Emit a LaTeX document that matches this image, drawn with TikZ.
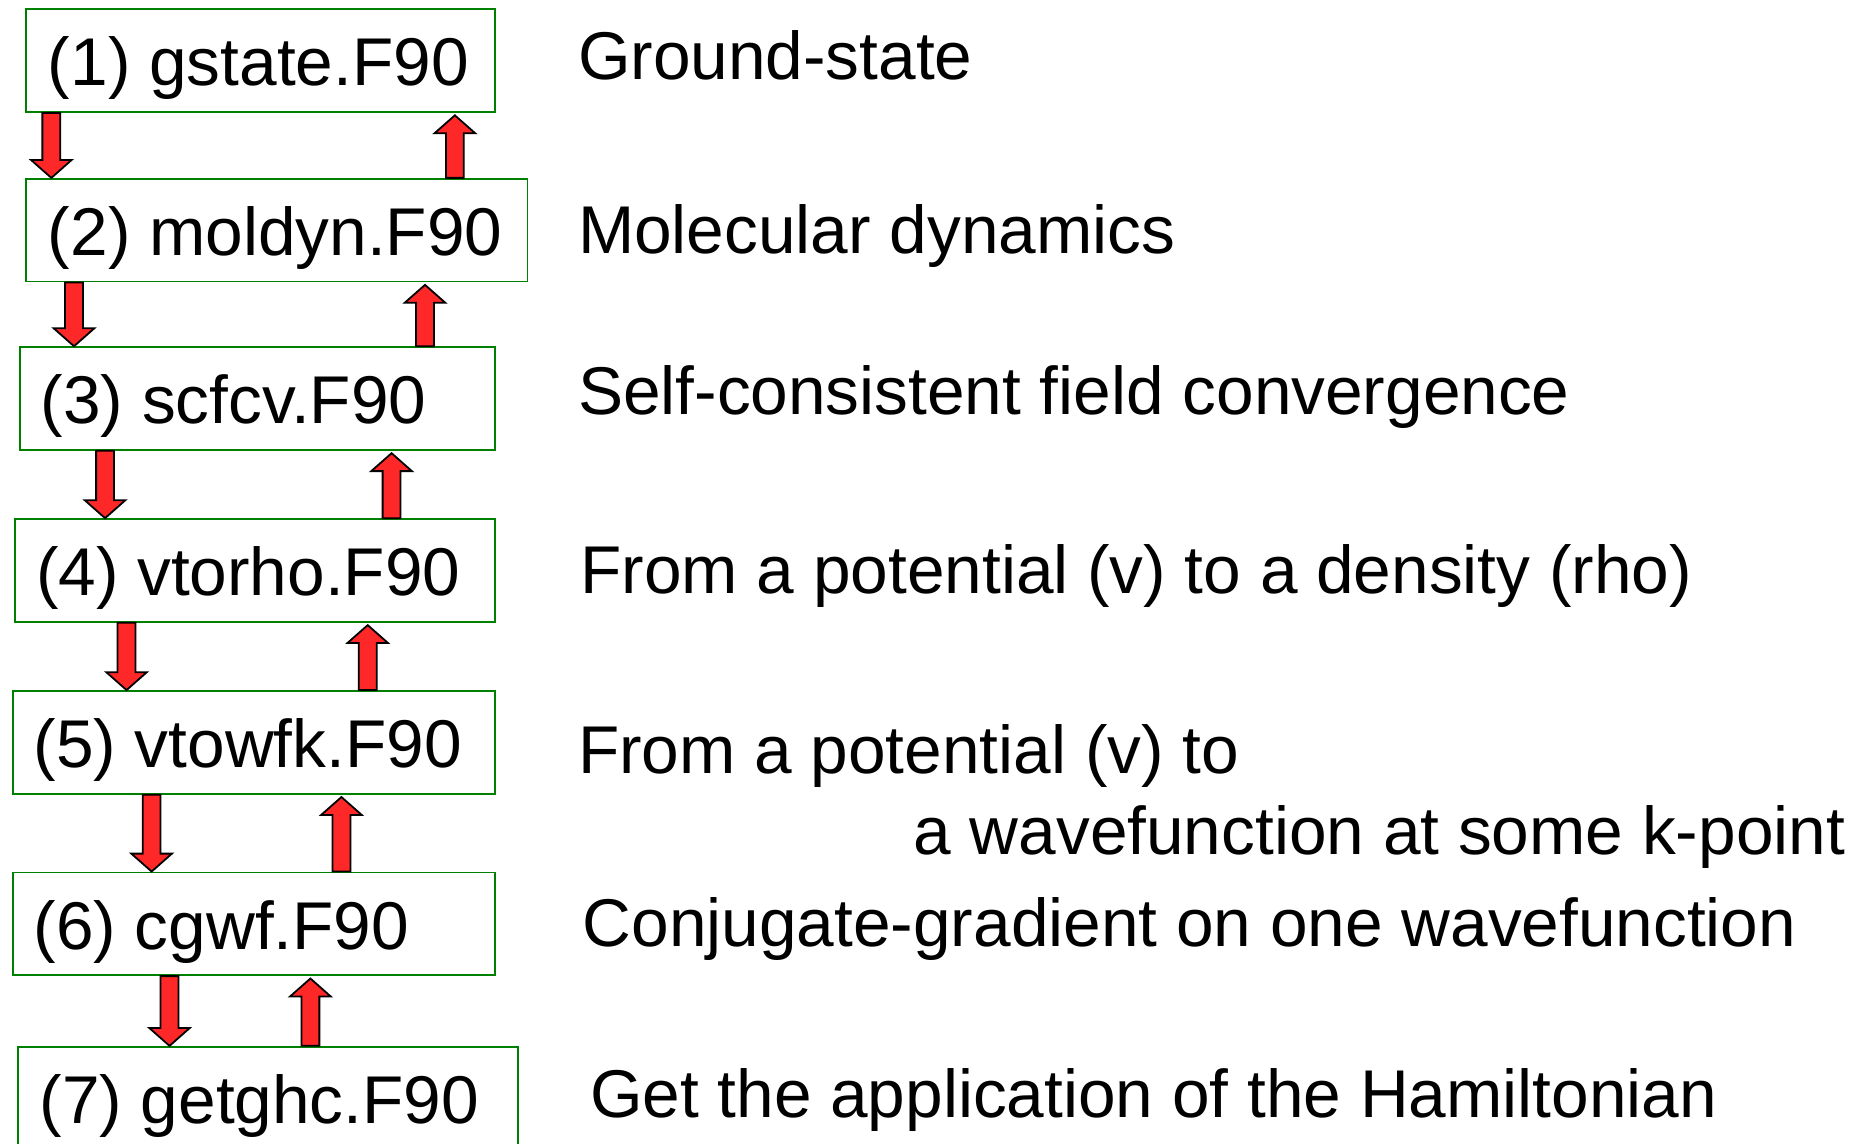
\documentclass[tikz,border=0pt]{standalone}
\usepackage{fontspec}
\setmainfont{Liberation Sans}
\usetikzlibrary{calc}
\definecolor{boxgreen}{RGB}{0,128,0}
\definecolor{arrred}{RGB}{255,40,40}
\tikzset{
  box/.style={draw=boxgreen, line width=1.6pt, rectangle, inner sep=0pt, anchor=north west},
  lbl/.style={anchor=base west, inner sep=0pt, font=\fontsize{56.6}{68}\selectfont},
  blk/.style={draw=black, line width=1.5pt, fill=arrred, line join=miter},
}
\newcommand\dnarr[3]{%
  \draw[blk] let \p1=(#2.south), \p2=(#3.north) in
    (#1pt-7.5pt,\y1) -- (#1pt+7.5pt,\y1) -- (#1pt+7.5pt,\y2+15pt) -- (#1pt+17pt,\y2+15pt)
    -- (#1pt,\y2) -- (#1pt-17pt,\y2+15pt) -- (#1pt-7.5pt,\y2+15pt) -- cycle;}
\newcommand\uparr[3]{%
  \draw[blk] let \p1=(#2.south), \p2=(#3.north) in
    (#1pt-7.5pt,\y2) -- (#1pt+7.5pt,\y2) -- (#1pt+7.5pt,\y1-17pt) -- (#1pt+17pt,\y1-17pt)
    -- (#1pt,\y1-2pt) -- (#1pt-17pt,\y1-17pt) -- (#1pt-7.5pt,\y1-17pt) -- cycle;}
\begin{document}
\begin{tikzpicture}[x=1pt,y=-1pt]
\useasboundingbox (0,0) rectangle (1568,958);
\fill[white] (0,0) rectangle (1568,958);
\begin{scope}
\clip (0,0) rectangle (1568,958);
% boxes
\node[box, minimum width=393, minimum height=86] (b1) at (21,7) {};
\node[box, minimum width=420, minimum height=86] (b2) at (21,149) {};
\node[box, minimum width=398, minimum height=86] (b3) at (16,290) {};
\node[box, minimum width=402, minimum height=86] (b4) at (12,434) {};
\node[box, minimum width=404, minimum height=86] (b5) at (10,578) {};
\node[box, minimum width=404, minimum height=86] (b6) at (10,730) {};
\node[box, minimum width=419, minimum height=86] (b7) at (14,876) {};
% box labels
\node[lbl] (l1) at (40,72) {(1) gstate.F90};
\node[lbl] (l2) at (40,214) {(2) moldyn.F90};
\node[lbl] (l3) at (34,355) {(3) scfcv.F90};
\node[lbl] (l4) at (30,499) {(4) vtorho.F90};
\node[lbl] (l5) at (28,643) {(5) vtowfk.F90};
\node[lbl] (l6) at (28,795) {(6) cgwf.F90};
\node[lbl] (l7) at (33,941) {(7) getghc.F90};
% descriptions
\node[lbl] (d1) at (484,67) {Ground-state};
\node[lbl] (d2) at (484,212) {Molecular dynamics};
\node[lbl] (d3) at (484,347) {Self-consistent field convergence};
\node[lbl] (d4) at (486,497) {From a potential (v) to a density (rho)};
\node[lbl] (d5) at (484,648) {From a potential (v) to};
\node[lbl] (d5b) at (765,716) {a wavefunction at some k-point};
\node[lbl] (d6) at (488,793) {Conjugate-gradient on one wavefunction};
\node[lbl] (d7) at (494,936) {Get the application of the Hamiltonian};
% arrows
\dnarr{43}{b1}{b2}  \uparr{381}{b1}{b2}
\dnarr{62}{b2}{b3}  \uparr{356}{b2}{b3}
\dnarr{88}{b3}{b4}  \uparr{328}{b3}{b4}
\dnarr{106}{b4}{b5} \uparr{308}{b4}{b5}
\dnarr{127}{b5}{b6} \uparr{286}{b5}{b6}
\dnarr{142}{b6}{b7} \uparr{260}{b6}{b7}
\end{scope}
\end{tikzpicture}
\end{document}
